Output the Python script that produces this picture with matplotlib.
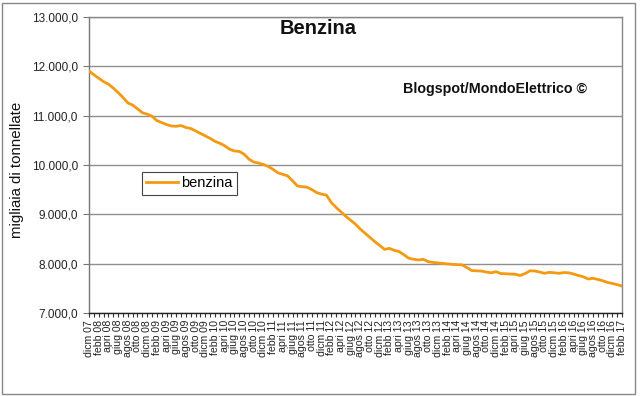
import numpy as np
import matplotlib
matplotlib.use("Agg")
import matplotlib.pyplot as plt
from matplotlib.ticker import FuncFormatter, MultipleLocator
from matplotlib.patches import Rectangle

plt.rcParams['font.family'] = ['Liberation Sans', 'DejaVu Sans']

# monthly values, dic 2007 .. feb 2017 (migliaia di tonnellate)
benzina = [
    11905, 11830, 11760, 11690, 11640, 11560, 11470, 11370, 11260, 11215,
    11140, 11060, 11030, 10990, 10900, 10860, 10820, 10790, 10785, 10800,
    10760, 10740, 10690, 10640, 10590, 10540, 10480, 10440, 10390, 10320,
    10285, 10275, 10220, 10120, 10060, 10040, 10010, 9970, 9910, 9840,
    9810, 9780, 9680, 9575, 9560, 9550, 9500, 9440, 9410, 9390,
    9240, 9140, 9050, 8960, 8880, 8800, 8700, 8615, 8530, 8445,
    8370, 8290, 8310, 8270, 8245, 8180, 8110, 8090, 8075, 8088,
    8040, 8025, 8015, 8005, 7995, 7985, 7980, 7975, 7920, 7860,
    7855, 7850, 7830, 7815, 7838, 7800, 7795, 7790, 7785, 7760,
    7800, 7855, 7852, 7830, 7805, 7824, 7815, 7805, 7820, 7815,
    7790, 7760, 7735, 7690, 7703, 7680, 7655, 7620, 7600, 7575,
    7547,
]

tick_labels = [
    "dicm 07",
    "febb 08", "apri 08", "giug 08", "agos 08", "otto 08", "dicm 08",
    "febb 09", "apri 09", "giug 09", "agos 09", "otto 09", "dicm 09",
    "febb 10", "apri 10", "giug 10", "agos 10", "otto 10", "dicm 10",
    "febb 11", "apri 11", "giug 11", "agos 11", "otto 11", "dicm 11",
    "febb 12", "apri 12", "giug 12", "agos 12", "otto 12", "dicm 12",
    "febb 13", "apri 13", "giug 13", "agos 13", "otto 13", "dicm 13",
    "febb 14", "apri 14", "giug 14", "agos 14", "otto 14", "dicm 14",
    "febb 15", "apri 15", "giug 15", "agos 15", "otto 15", "dicm 15",
    "febb 16", "apri 16", "giug 16", "agos 16", "otto 16", "dicm 16",
    "febb 17",
]

W, H = 640, 396
fig = plt.figure(figsize=(W / 100, H / 100), dpi=100)
fig.patch.set_facecolor("white")

L, R, T, B = 89, 622, 17, 313
ax = fig.add_axes([L / W, 1 - B / H, (R - L) / W, (B - T) / H])

x = np.arange(len(benzina))
line, = ax.plot(x, benzina, color="#F39A12", lw=2.0, solid_joinstyle="round",
                label="benzina", zorder=3)

ax.set_xlim(0, len(benzina) - 1)
ax.set_ylim(7000, 13000)
ax.yaxis.set_major_locator(MultipleLocator(1000))


def fmt(v, pos):
    s = f"{v:,.1f}"
    return s.replace(",", "X").replace(".", ",").replace("X", ".")


ax.yaxis.set_major_formatter(FuncFormatter(fmt))
ax.grid(axis="y", color="#8f8f8f", lw=1.0, zorder=1)
ax.set_axisbelow(True)

ax.set_xticks(x[::2])
ax.set_xticklabels(tick_labels, rotation=90, fontsize=7.6, color="#222222",
                   linespacing=0.9)
ax.set_xticks(x, minor=True)
ax.tick_params(axis="x", which="both", direction="out", length=3, width=0.8,
               color="#333333", pad=2)
ax.tick_params(axis="y", direction="out", length=4, width=0.8,
               color="#777777", labelsize=8.5, labelcolor="#222222", pad=4)

for s in ["top", "right"]:
    ax.spines[s].set_color("#888888")
    ax.spines[s].set_linewidth(1.0)
ax.spines["left"].set_color("#777777")
ax.spines["bottom"].set_color("#222222")
ax.spines["left"].set_linewidth(1.0)
ax.spines["bottom"].set_linewidth(1.0)

fig.text(318 / W, 1 - 28 / H, "Benzina", ha="center", va="center",
         fontsize=14.5, fontweight="bold", color="#111111")
fig.text(403 / W, 1 - 89 / H, "Blogspot/MondoElettrico ©", ha="left",
         va="center", fontsize=10.3, fontweight="bold", color="#111111")
fig.text(17 / W, 1 - 170 / H, "migliaia di tonnellate", rotation=90,
         ha="center", va="center", fontsize=10.8, color="#111111")

leg = fig.legend(handles=[line], loc="upper left",
                 bbox_to_anchor=(142 / W, 1 - 172 / H), fontsize=10.5,
                 frameon=True, fancybox=False, framealpha=1,
                 edgecolor="#444444", handlelength=2.2, handletextpad=0.2,
                 borderpad=0.3, borderaxespad=0)
leg.get_frame().set_linewidth(0.8)

fig.patches.append(Rectangle((1.5 / W, 2.5 / H), (635 - 1.5) / W, (393 - 2.5) / H,
                             transform=fig.transFigure, fill=False,
                             edgecolor="#888888", lw=1.0))

fig.savefig("out.png", dpi=100, facecolor="white")
